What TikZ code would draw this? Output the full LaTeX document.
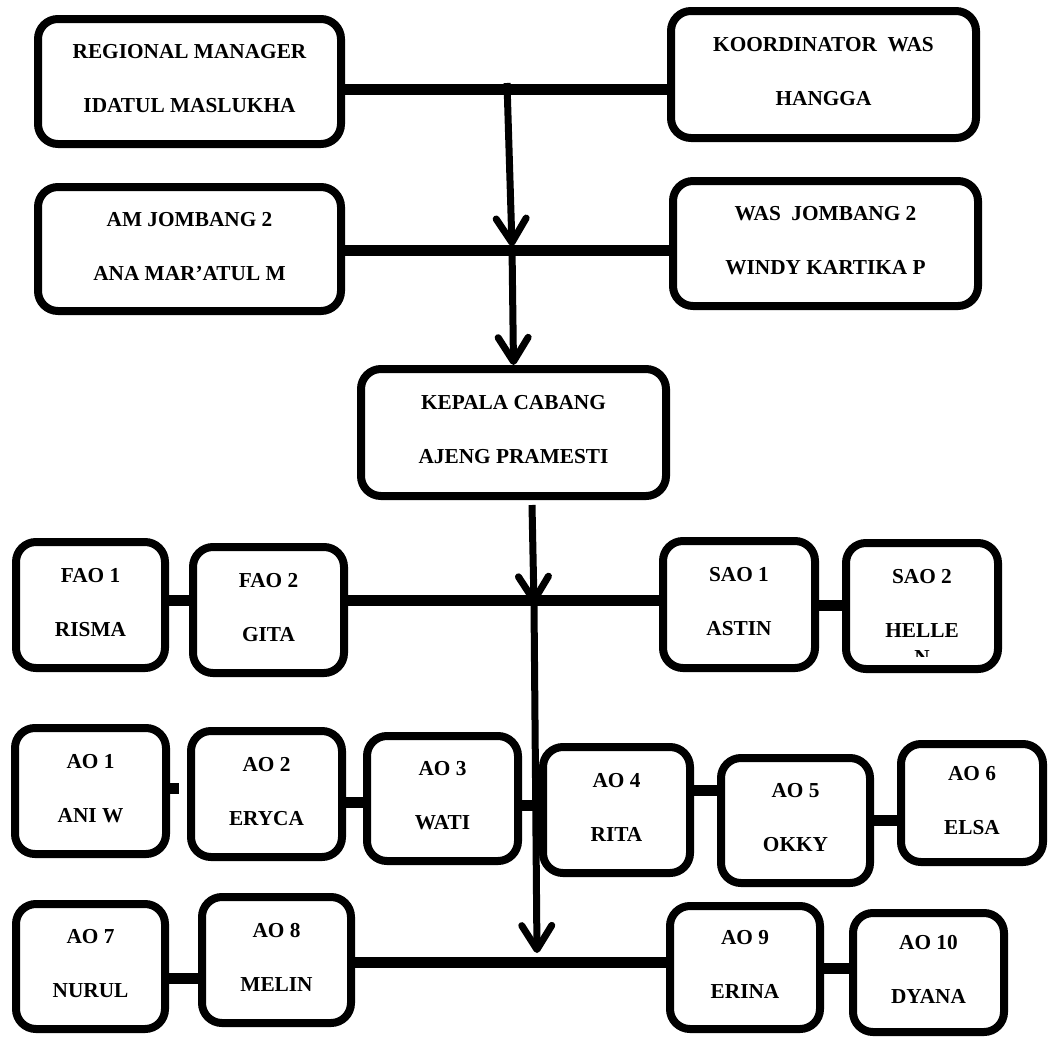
\documentclass[tikz,border=0pt]{standalone}
\usepackage{fontspec}
\setmainfont{Liberation Serif}
\usepackage{tikz}
\usetikzlibrary{arrows.meta}

\tikzset{
  post/.style={draw, line width=8pt, rounded corners=20pt, align=center, inner sep=0pt,
    font=\bfseries\fontsize{21.3}{54}\selectfont, text depth=6pt},
  tail/.style={inner sep=0pt, font=\bfseries\fontsize{21.3}{26}\selectfont},
  bar/.style={line width=11pt},
  flow/.style={line width=7pt, -{Straight Barb[length=24pt,width=30pt,round]}},
}

\begin{document}
\begin{tikzpicture}[x=1pt, y=-1pt]
\useasboundingbox (0,0) rectangle (1053,1039);
\node[post, minimum width=303, minimum height=125] (rm) at (189.5,81.5) {REGIONAL MANAGER\\IDATUL MASLUKHA};
\node[post, minimum width=305, minimum height=127] (kw) at (823.5,74.5) {KOORDINATOR~ WAS\\HANGGA};
\node[post, minimum width=303, minimum height=124] (am) at (189.5,249) {AM JOMBANG 2\\ANA MAR'ATUL M};
\node[post, minimum width=305, minimum height=125] (wj) at (825.5,243.5) {WAS~ JOMBANG 2\\WINDY KARTIKA P};
\node[post, minimum width=305, minimum height=127] (kc) at (513.5,432.5) {KEPALA CABANG\\AJENG PRAMESTI};
\node[post, minimum width=149, minimum height=126] (fao1) at (90.5,605) {FAO 1\\RISMA};
\node[post, minimum width=151, minimum height=126] (fao2) at (268.5,610) {FAO 2\\GITA};
\node[post, minimum width=152, minimum height=127] (sao1) at (739,604.5) {SAO 1\\ASTIN};
\node[post, minimum width=152, minimum height=126] (sao2) at (922,606) {SAO 2\\HELLE};
\begin{scope}
\clip (842,600) rectangle (1002,656);
\node[tail] (sao2n) at (922,658) {N};
\end{scope}
\node[post, minimum width=151, minimum height=126] (ao1) at (90.5,791) {AO 1\\ANI W};
\node[post, minimum width=151, minimum height=126] (ao2) at (266.5,794) {AO 2\\ERYCA};
\node[post, minimum width=151, minimum height=125] (ao3) at (442.5,798.5) {AO 3\\WATI};
\node[post, minimum width=147, minimum height=126] (ao4) at (616.5,810) {AO 4\\RITA};
\node[post, minimum width=149, minimum height=125] (ao5) at (795.5,820.5) {AO 5\\OKKY};
\node[post, minimum width=142, minimum height=118] (ao6) at (972,803) {AO 6\\ELSA};
\node[post, minimum width=149, minimum height=125] (ao7) at (90.5,966.5) {AO 7\\NURUL};
\node[post, minimum width=149, minimum height=126] (ao8) at (276.5,960) {AO 8\\MELIN};
\node[post, minimum width=150, minimum height=123] (ao9) at (745,967.5) {AO 9\\ERINA};
\node[post, minimum width=151, minimum height=119] (ao10) at (928.5,972.5) {AO 10\\DYANA};
\coordinate (j1) at (507,83);
\coordinate (j2) at (512,246);
\coordinate (j3) at (532,505);
\coordinate (j4) at (534,604);
\coordinate (j5) at (537,953);
\coordinate (stub) at (179,788);
\draw[bar] (rm.east |- 0,89) -- (kw.west |- 0,89);
\draw[bar] (am.east |- 0,250) -- (wj.west |- 0,250);
\draw[flow] (j1) -- (j2);
\draw[flow] (j2) -- (kc.north);
\draw[flow] (j3) -- (j4);
\draw[flow] (j4) -- (j5);
\draw[bar] (fao1.east |- 0,600) -- (fao2.west |- 0,600);
\draw[bar] (fao2.east |- 0,600) -- (sao1.west |- 0,600);
\draw[bar] (sao1.east |- 0,605) -- (sao2.west |- 0,605);
\draw[bar] (ao1.east |- stub) -- (stub);
\draw[bar] (ao2.east |- 0,802) -- (ao3.west |- 0,802);
\draw[bar] (ao3.east |- 0,805) -- (ao4.west |- 0,805);
\draw[bar] (ao4.east |- 0,790) -- (ao5.west |- 0,790);
\draw[bar] (ao5.east |- 0,820) -- (ao6.west |- 0,820);
\draw[bar] (ao7.east |- 0,978) -- (ao8.west |- 0,978);
\draw[bar] (ao8.east |- 0,962) -- (ao9.west |- 0,962);
\draw[bar] (ao9.east |- 0,968) -- (ao10.west |- 0,968);
\end{tikzpicture}
\end{document}
